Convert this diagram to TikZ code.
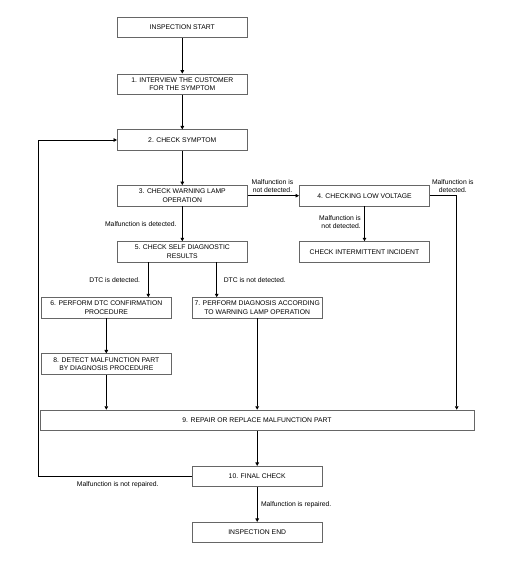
\documentclass[tikz,border=0pt]{standalone}
\usepackage{fontspec}
\setmainfont{Liberation Sans}
\usetikzlibrary{arrows.meta}
\begin{document}
\begin{tikzpicture}[x=1pt,y=-1pt,
  box/.style={draw=black!60,line width=0.6pt,minimum height=20.5pt,inner sep=0pt,align=center,font=\fontsize{6.8}{8.3}\selectfont},
  w130/.style={minimum width=130pt},
  conn/.style={line width=0.9pt,-{Triangle[length=3.5pt,width=3.6pt]}},
  lbl/.style={font=\fontsize{6.8}{8}\selectfont,inner sep=0pt,align=center}]
\useasboundingbox (0,0) rectangle (518,572);
\node[box,w130] (start) at (182.3,27.5) {INSPECTION START};
\node[box,w130] (s1) at (182.3,84.2) {1. INTERVIEW THE CUSTOMER\\FOR THE SYMPTOM};
\node[box,w130] (s2) at (182.3,140) {2. CHECK SYMPTOM};
\node[box,w130] (s3) at (182.3,195.7) {3. CHECK WARNING LAMP\\OPERATION};
\node[box,minimum width=130.4pt] (s4) at (364.5,195.7) {4. CHECKING LOW VOLTAGE};
\node[box,w130] (s5) at (182.3,251.8) {5. CHECK SELF DIAGNOSTIC\\RESULTS};
\node[box,minimum width=130.4pt] (ci) at (364.5,251.8) {CHECK INTERMITTENT INCIDENT};
\node[box,minimum width=130.7pt] (s6) at (106.3,307.8) {6. PERFORM DTC CONFIRMATION\\PROCEDURE};
\node[box,minimum width=130.3pt] (s7) at (257.2,307.8) {7. PERFORM DIAGNOSIS ACCORDING\\TO WARNING LAMP OPERATION};
\node[box,minimum width=130.7pt] (s8) at (106.3,364) {8. DETECT MALFUNCTION PART\\BY DIAGNOSIS PROCEDURE};
\node[box,minimum width=434pt] (s9) at (257,420.3) {9. REPAIR OR REPLACE MALFUNCTION PART};
\node[box,minimum width=130.3pt] (s10) at (257.2,476.5) {10. FINAL CHECK};
\node[box,minimum width=130.3pt] (end) at (257.2,532.5) {INSPECTION END};
\coordinate (x56) at (148.3,0);
\coordinate (x57) at (216.7,0);
\coordinate (c4r) at (456.7,195.7);
\coordinate (c10l) at (38.7,476.5);
\coordinate (c2l) at (38.7,140);
\draw[conn] (start) -- (s1);
\draw[conn] (s1) -- (s2);
\draw[conn] (s2) -- (s3);
\draw[conn] (s3) -- (s4);
\draw[conn] (s3) -- (s5);
\draw[conn] (s4) -- (ci);
\draw[conn] (s5.south -| x56) -- (s6.north -| x56);
\draw[conn] (s5.south -| x57) -- (s7.north -| x57);
\draw[conn] (s6) -- (s8);
\draw[conn] (s8) -- (s8 |- s9.north);
\draw[conn] (s7) -- (s7 |- s9.north);
\draw[conn] (s4.east) -- (c4r) -- (c4r |- s9.north);
\draw[conn] (s9.south -| s10) -- (s10);
\draw[conn] (s10) -- (end);
\draw[conn] (s10.west) -- (c10l) -- (c2l) -- (s2.west);
\node[lbl,anchor=south] (l1) at (272.5,192.3) {Malfunction is\\not detected.};
\node[lbl,anchor=south] (l2) at (452.8,192.3) {Malfunction is\\detected.};
\node[lbl] (l3) at (140.8,224) {Malfunction is detected.};
\node[lbl,align=right,anchor=east] (l4) at (361,222) {Malfunction is\\not detected.};
\node[lbl] (l5) at (114.7,280) {DTC is detected.};
\node[lbl] (l6) at (254.8,280) {DTC is not detected.};
\node[lbl] (l7) at (117.8,485) {Malfunction is not repaired.};
\node[lbl] (l8) at (296.2,504.7) {Malfunction is repaired.};
\end{tikzpicture}
\end{document}
